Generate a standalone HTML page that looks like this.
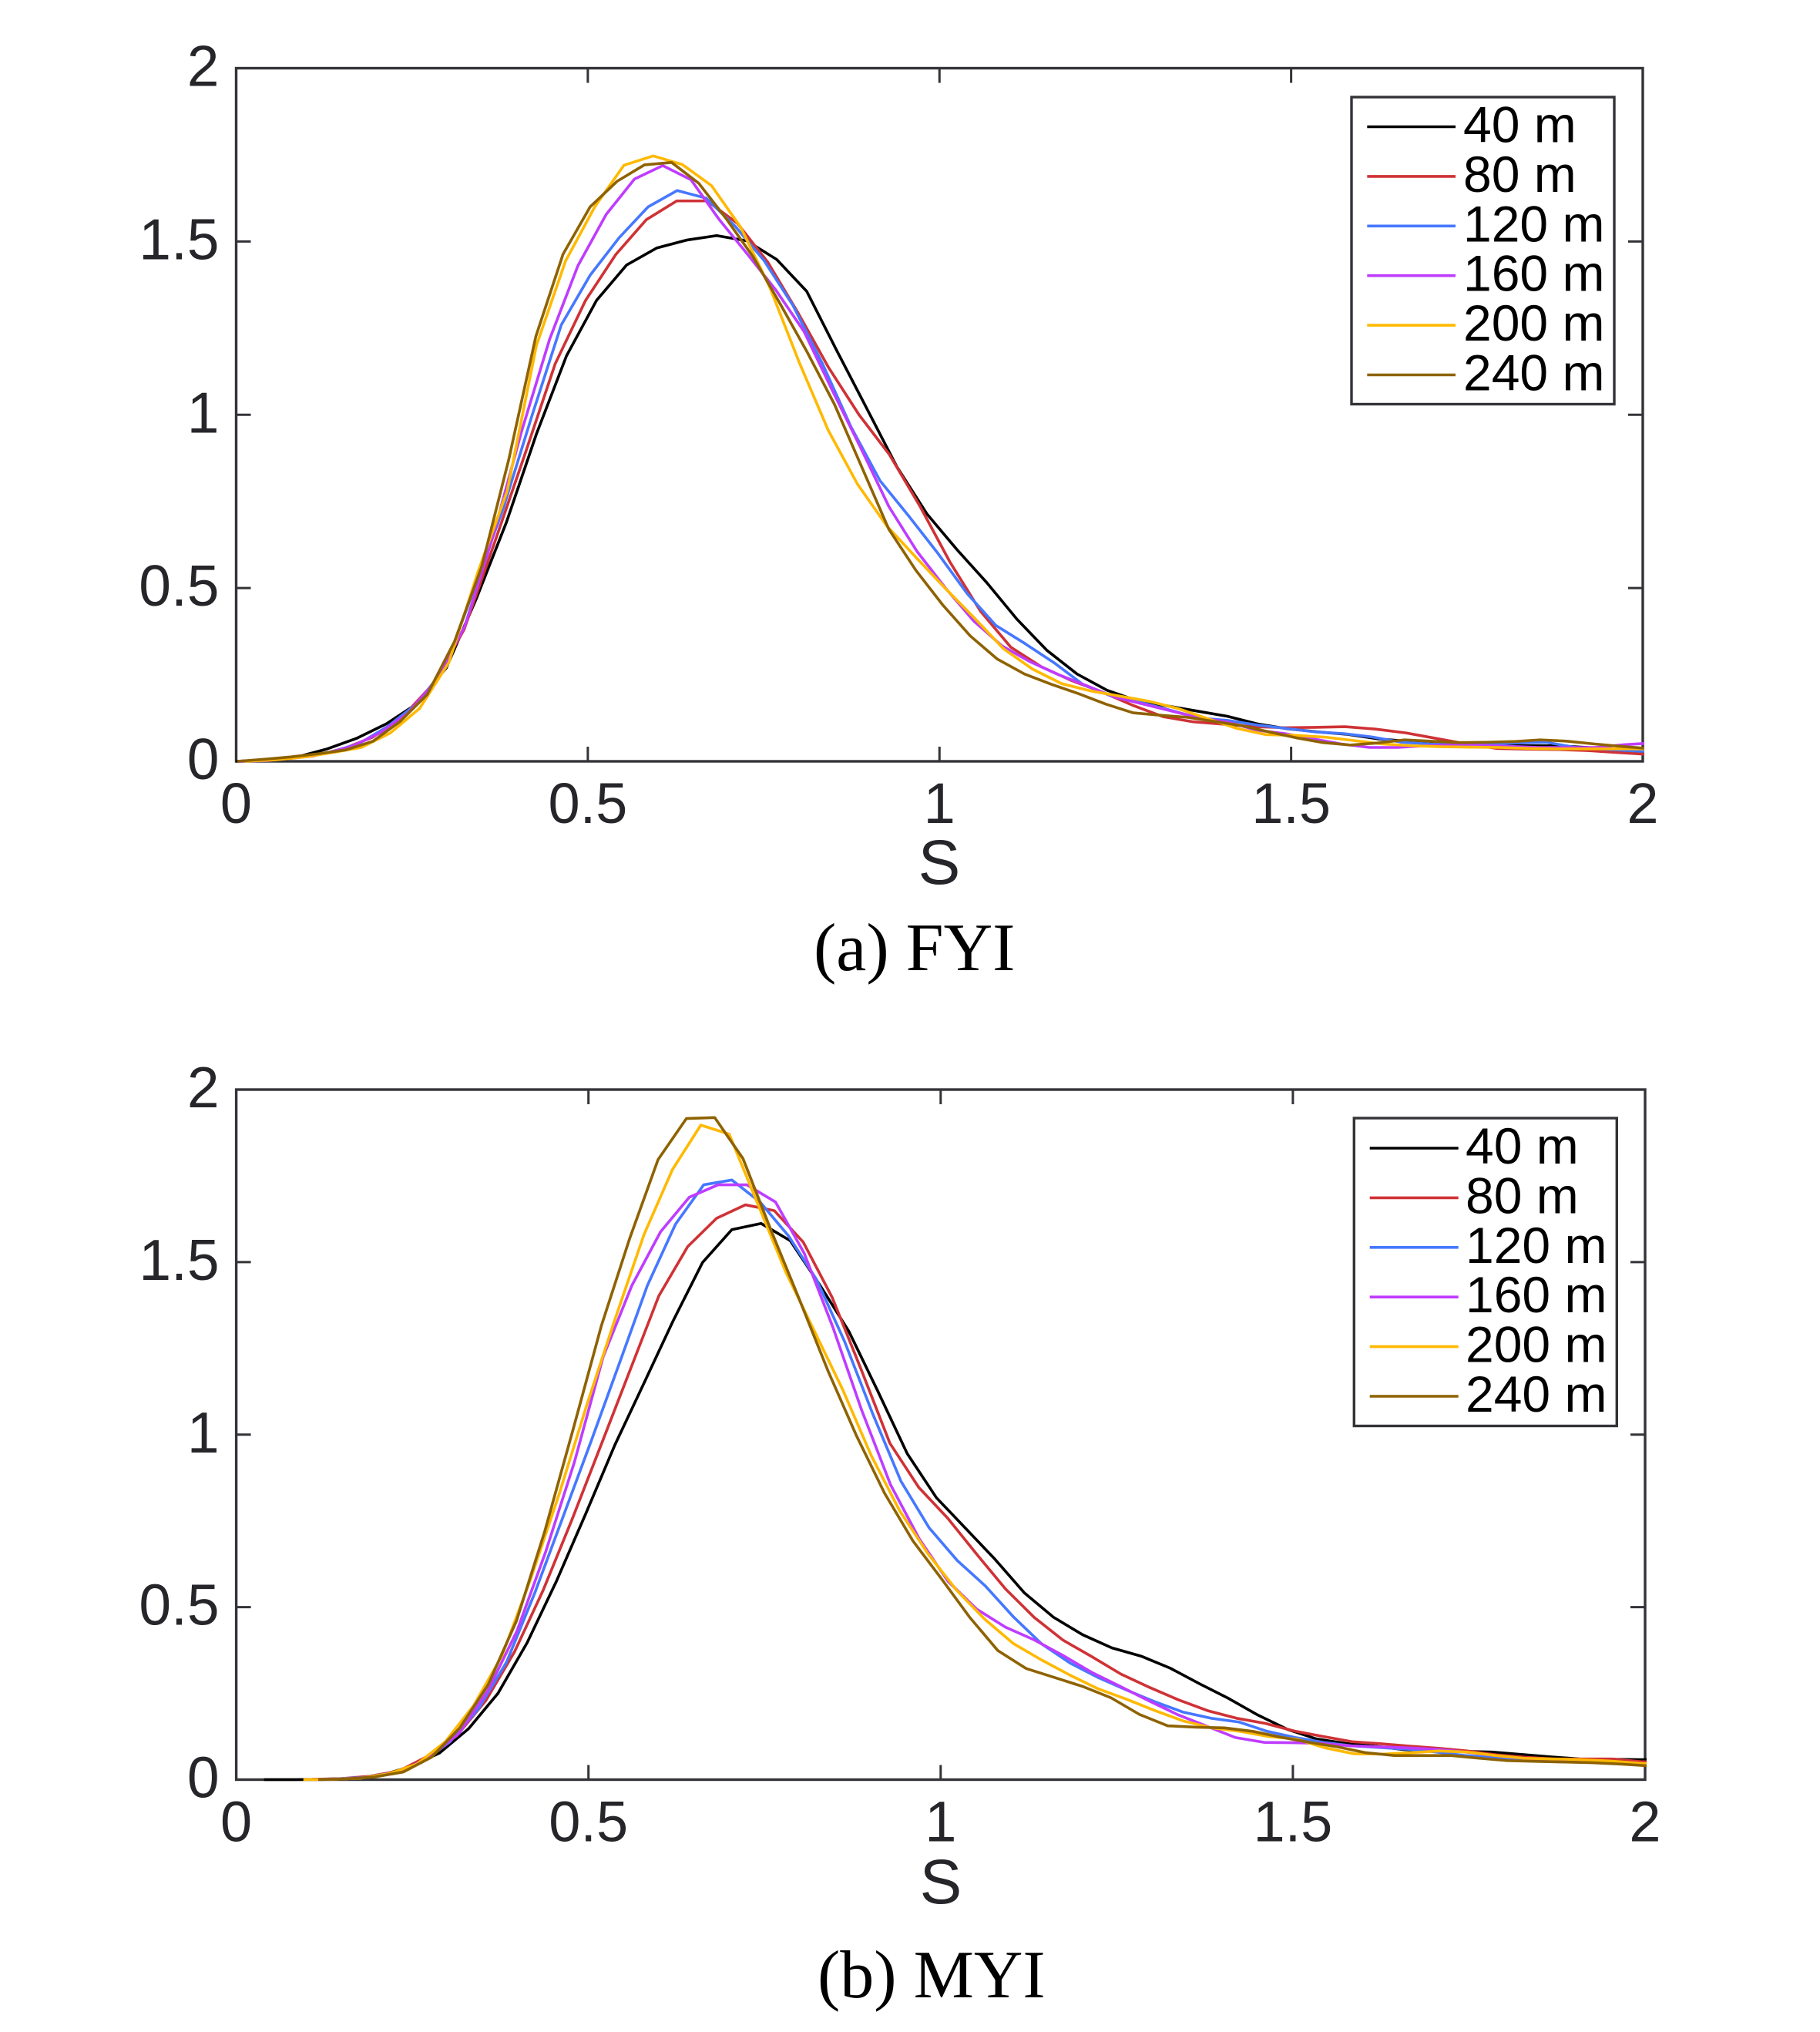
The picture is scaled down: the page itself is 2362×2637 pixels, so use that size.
<!DOCTYPE html>
<html lang="en">
<head>
<meta charset="utf-8">
<title>S distribution by window size: FYI and MYI</title>
<style>
html,body{margin:0;padding:0;background:#fff;}
#figure{display:block;width:2362px;height:2637px;}
</style>
</head>
<body>
<svg id="figure" xmlns="http://www.w3.org/2000/svg" width="2362" height="2637" viewBox="0 0 2362 2637">
<rect x="0" y="0" width="2362" height="2637" fill="#ffffff"/>
</svg>
<script>
// ---------- shared labels ----------
const seriesLabels = ['40 m', '80 m', '120 m', '160 m', '200 m', '240 m'];
const xTicks = [0, 0.5, 1, 1.5, 2];
const yTicks = [0, 0.5, 1, 1.5, 2];
const xTickLabels = ['0', '0.5', '1', '1.5', '2'];
const yTickLabels = ['0', '0.5', '1', '1.5', '2'];
const xAxisTitle = 'S';

// ---------- FYI: first bin centre and bin width of each series (S units) ----------
const fyiStart = [0, 0.0216, 0.009, 0.0035, 0.0119, 0.0015];
const fyiStep = [0.0427, 0.0432, 0.0412, 0.0402, 0.0415, 0.0386];

// ---------- FYI: values per series ----------
const fyi40 = [0,.004,.012,.035,.066,.108,.165,.27,.47,.69,.945,1.17,1.33,1.432,1.481,1.504,1.517,1.502,1.448,1.356,1.185,1.018,.85,.714,.611,.515,.41,.32,.252,.205,.175,.16,.145,.13,.108,.094,.085,.078,.065,.058,.053,.048,.047,.045,.045,.04,.03,.025];
const fyi80 = [.002,.006,.015,.035,.07,.13,.225,.38,.63,.885,1.147,1.33,1.463,1.563,1.617,1.617,1.552,1.44,1.293,1.136,1.0,.885,.737,.574,.433,.329,.273,.233,.2,.162,.129,.114,.107,.1,.097,.098,.1,.093,.082,.066,.05,.037,.035,.034,.031,.025,.02];
const fyi120 = [.001,.004,.012,.026,.05,.1,.165,.27,.5,.73,1.0,1.259,1.403,1.511,1.6,1.647,1.625,1.544,1.445,1.315,1.15,.965,.81,.707,.6,.485,.392,.34,.285,.222,.188,.17,.148,.125,.118,.105,.095,.085,.08,.07,.055,.05,.048,.05,.053,.055,.04,.035,.03,.027];
const fyi160 = [0,.002,.01,.022,.043,.082,.14,.235,.39,.65,.95,1.218,1.43,1.578,1.68,1.719,1.678,1.563,1.463,1.36,1.24,1.07,.905,.735,.605,.5,.405,.333,.287,.25,.218,.185,.165,.145,.125,.113,.09,.08,.065,.05,.04,.04,.045,.048,.046,.043,.04,.04,.04,.048,.053];
const fyi200 = [0,.004,.012,.025,.04,.082,.153,.285,.547,.78,1.2,1.444,1.6,1.72,1.747,1.722,1.661,1.541,1.367,1.152,.955,.8,.68,.589,.5,.414,.325,.266,.224,.203,.188,.173,.152,.123,.095,.077,.075,.07,.06,.05,.045,.042,.041,.04,.037,.036,.036,.036,.036];
const fyi240 = [0,.006,.013,.022,.033,.058,.115,.193,.345,.56,.87,1.226,1.463,1.6,1.674,1.721,1.728,1.668,1.567,1.456,1.32,1.18,1.03,.85,.67,.551,.45,.362,.295,.252,.222,.195,.165,.14,.133,.127,.115,.103,.085,.068,.054,.047,.053,.062,.058,.054,.055,.057,.062,.058,.05,.043,.037];

// ---------- MYI: first bin centre and bin width of each series (S units) ----------
const myiStart = [0.0395, 0.1079, 0.1036, 0.1128, 0.0953, 0.1164];
const myiStep = [0.0415, 0.041, 0.04, 0.0408, 0.0403, 0.0402];

// ---------- MYI: values per series ----------
const myi40 = [0,0,.001,.004,.012,.038,.077,.148,.25,.397,.575,.77,.97,1.15,1.331,1.499,1.594,1.612,1.562,1.435,1.3,1.125,.945,.817,.728,.639,.542,.471,.42,.382,.358,.323,.278,.235,.187,.146,.118,.105,.097,.087,.083,.082,.08,.073,.066,.06,.059,.058,.058];
const myi80 = [.001,.003,.01,.025,.068,.127,.228,.37,.55,.755,.97,1.186,1.402,1.545,1.627,1.666,1.649,1.558,1.398,1.19,.975,.847,.758,.654,.553,.47,.404,.356,.306,.267,.231,.2,.178,.163,.141,.125,.11,.104,.097,.091,.083,.072,.065,.06,.06,.06,.052,.05];
const myi120 = [0,.002,.007,.02,.05,.11,.205,.34,.54,.76,.98,1.205,1.432,1.61,1.724,1.738,1.674,1.577,1.45,1.27,1.06,.865,.73,.635,.561,.471,.393,.338,.296,.26,.226,.196,.178,.167,.14,.122,.108,.098,.093,.088,.08,.07,.064,.059,.055,.053,.05,.047,.044];
const myi160 = [0,.002,.008,.025,.067,.135,.26,.43,.66,.92,1.225,1.432,1.588,1.688,1.724,1.724,1.674,1.525,1.31,1.07,.855,.698,.575,.494,.442,.405,.36,.311,.27,.228,.188,.155,.122,.108,.107,.105,.098,.095,.092,.088,.08,.07,.062,.055,.053,.05,.046,.043];
const myi200 = [0,.001,.004,.017,.045,.11,.215,.36,.58,.825,1.09,1.34,1.58,1.768,1.897,1.871,1.67,1.47,1.3,1.13,.94,.78,.655,.55,.465,.395,.347,.303,.263,.233,.2,.17,.15,.14,.125,.117,.092,.075,.074,.078,.083,.08,.07,.062,.06,.058,.054,.048,.042];
const myi240 = [0,.002,.008,.022,.065,.15,.275,.46,.72,1.015,1.316,1.569,1.797,1.916,1.919,1.8,1.59,1.39,1.185,.998,.83,.692,.583,.471,.374,.322,.296,.27,.237,.189,.156,.152,.15,.14,.123,.108,.095,.078,.07,.07,.07,.062,.055,.053,.051,.049,.045,.04];

// ---------- styling and layout ----------
const seriesColors = ['#000000', '#cf3236', '#4678ff', '#bf3cff', '#ffb900', '#8e6200'];
const AXIS_COLOR = '#333338';
const TICK_TEXT = '#26262a';
const SANS = '"Liberation Sans", Arial, sans-serif';
const SERIF = '"Liberation Serif", "Times New Roman", serif';
const NS = 'http://www.w3.org/2000/svg';
const svg = document.getElementById('figure');

function make(tag, attrs, parent) {
  const node = document.createElementNS(NS, tag);
  for (const key in attrs) node.setAttribute(key, attrs[key]);
  parent.appendChild(node);
  return node;
}

function drawPanel(p) {
  const sx = v => p.left + (v - 0) / 2 * (p.right - p.left);
  const sy = v => p.bottom - (v - 0) / 2 * (p.bottom - p.top);

  const group = make('g', {}, svg);
  
  

  const defs = make('defs', {}, group);
  const clip = make('clipPath', {id: 'clip-' + p.id}, defs);
  make('rect', {x: p.left - 2, y: p.top - 2, width: p.right - p.left + 4, height: p.bottom - p.top + 4}, clip);

  // plot box
  const box = make('rect', {x: p.left, y: p.top, width: p.right - p.left, height: p.bottom - p.top, fill: '#ffffff', stroke: AXIS_COLOR, 'stroke-width': 3.4}, group);
  
  

  // x ticks and labels
  xTicks.forEach((t, i) => {
    const x = sx(t);
    if (i > 0 && i < xTicks.length - 1) {
      const tickB = make('line', {x1: x, x2: x, y1: p.bottom, y2: p.bottom - 19, stroke: AXIS_COLOR, 'stroke-width': 3}, group);
      
      
      const tickT = make('line', {x1: x, x2: x, y1: p.top, y2: p.top + 19, stroke: AXIS_COLOR, 'stroke-width': 3}, group);
      
      
    }
    const label = make('text', {x: x, y: p.bottom + 80, 'text-anchor': 'middle', 'font-family': SANS, 'font-size': 74, fill: TICK_TEXT}, group);
    label.textContent = xTickLabels[i];
    
    
  });

  // y ticks and labels
  yTicks.forEach((t, i) => {
    const y = sy(t);
    if (i > 0 && i < yTicks.length - 1) {
      const tickL = make('line', {x1: p.left, x2: p.left + 19, y1: y, y2: y, stroke: AXIS_COLOR, 'stroke-width': 3}, group);
      
      
      const tickR = make('line', {x1: p.right, x2: p.right - 19, y1: y, y2: y, stroke: AXIS_COLOR, 'stroke-width': 3}, group);
      
      
    }
    const label = make('text', {x: p.left - 22, y: y + 23, 'text-anchor': 'end', 'font-family': SANS, 'font-size': 75, fill: TICK_TEXT}, group);
    label.textContent = yTickLabels[i];
    
    
  });

  // curves
  const curves = make('g', {'clip-path': 'url(#clip-' + p.id + ')'}, group);
  
  
  p.series.forEach((values, s) => {
    let d = '';
    values.forEach((v, k) => {
      const x = sx(p.start[s] + k * p.step[s]);
      d += (k === 0 ? 'M' : 'L') + x.toFixed(2) + ' ' + sy(v).toFixed(2);
    });
    const path = make('path', {d: d, fill: 'none', stroke: seriesColors[s], 'stroke-width': 3.6, 'stroke-linejoin': 'round'}, curves);
    
    
  });

  // x axis title
  const title = make('text', {x: p.titleX, y: p.titleY, 'text-anchor': 'middle', 'font-family': SANS, 'font-size': 82, fill: TICK_TEXT}, group);
  title.textContent = xAxisTitle;
  
  

  // legend
  const legend = make('g', {}, group);
  
  
  const frame = make('rect', {x: p.lg.left, y: p.lg.top, width: p.lg.right - p.lg.left, height: p.lg.bottom - p.lg.top, fill: '#ffffff', stroke: AXIS_COLOR, 'stroke-width': 3.4}, legend);
  
  
  seriesLabels.forEach((name, s) => {
    const y = p.lg.firstY + s * p.lg.rowGap;
    const swatch = make('line', {x1: p.lg.lineX1, x2: p.lg.lineX2, y1: y, y2: y, stroke: seriesColors[s], 'stroke-width': 3.6}, legend);
    
    
    const text = make('text', {x: p.lg.textX, y: y + 20, 'font-family': SANS, 'font-size': 66, fill: '#000000'}, legend);
    text.textContent = name;
    
    
  });

  // caption
  const caption = make('text', {x: p.capX, y: p.capY, 'font-family': SERIF, 'font-size': 88, fill: '#000000'}, group);
  caption.textContent = p.caption;
  
  
}

drawPanel({
  id: 'fyi', caption: '(a) FYI',
  left: 306.5, right: 2132, top: 88.5, bottom: 988,
  titleX: 1219, titleY: 1147, capX: 1056, capY: 1259,
  series: [fyi40, fyi80, fyi120, fyi160, fyi200, fyi240],
  start: fyiStart, step: fyiStep,
  lg: {left: 1754, right: 2095, top: 126, bottom: 524.5, lineX1: 1774.3, lineX2: 1889, firstY: 164.5, rowGap: 64.4, textX: 1899}
});

drawPanel({
  id: 'myi', caption: '(b) MYI',
  left: 306.6, right: 2135, top: 1414, bottom: 2309.5,
  titleX: 1221, titleY: 2470, capX: 1061, capY: 2592,
  series: [myi40, myi80, myi120, myi160, myi200, myi240],
  start: myiStart, step: myiStep,
  lg: {left: 1757.3, right: 2098.3, top: 1451, bottom: 1850.5, lineX1: 1777.7, lineX2: 1892.7, firstY: 1490, rowGap: 64.4, textX: 1902}
});
</script>
</body>
</html>
